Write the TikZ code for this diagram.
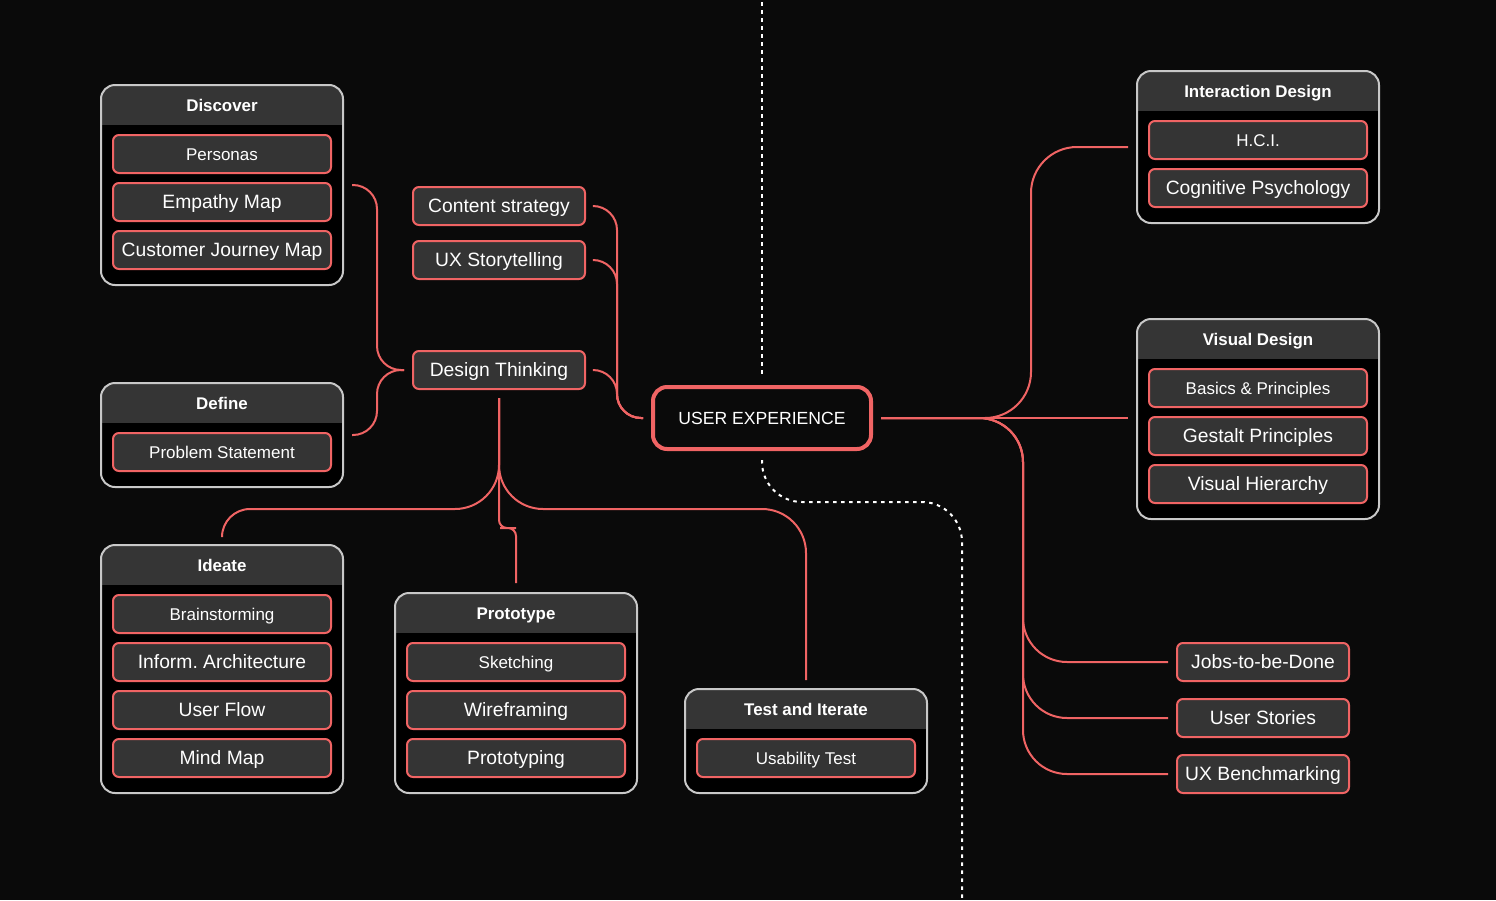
\documentclass[tikz,border=0pt]{standalone}
\usepackage{fontspec}
\setmainfont{Liberation Sans}
\usetikzlibrary{calc}
\definecolor{bg}{HTML}{0A0A0A}
\definecolor{coral}{HTML}{F06464}
\definecolor{itemfill}{HTML}{343434}
\definecolor{hdr}{HTML}{353535}
\definecolor{gborder}{HTML}{C8C8C8}
\frenchspacing
\tikzset{
  item/.style={draw=coral, line width=2pt, fill=itemfill, rounded corners=6pt,
    minimum width=218pt, minimum height=38pt, inner sep=0pt, text=white,
    text height=17.8pt, text depth=4pt,
    font=\fontsize{19.3}{22}\selectfont},
  itemsm/.style={item, text height=15.7pt, text depth=3.5pt, font=\fontsize{17}{20}\selectfont},
  grp/.style={draw=gborder, line width=2pt, fill=black, rounded corners=14pt,
    minimum width=242pt, inner sep=0pt,
    path picture={\fill[hdr, sharp corners] (path picture bounding box.north west)
      rectangle ([yshift=-40pt]path picture bounding box.north east);}},
  grptitle/.style={text=white, font=\bfseries\fontsize{16.9}{20}\selectfont, inner sep=0pt,
    text height=15.8pt, text depth=3.5pt},
  core/.style={draw=coral, line width=4pt, fill=bg, rounded corners=14pt,
    minimum width=218pt, minimum height=62pt, inner sep=0pt, text=white,
    text height=16.1pt, text depth=3.5pt,
    font=\fontsize{17.6}{21}\selectfont},
  link/.style={draw=coral, line width=2pt},
  dots/.style={draw=white, line width=2pt, dash pattern=on 3.5pt off 4.5pt},
}
\begin{document}
\begin{tikzpicture}[x=1pt,y=-1pt]
\useasboundingbox (0,0) rectangle (1496,900);
\fill[bg] (0,0) rectangle (1496,900);

% ---- groups
\node[grp, minimum height=200pt] (discover) at (222,185) {};
\node[grptitle] (discovert) at (222,105) {Discover};
\node[itemsm] (personas) at (222,154) {Personas};
\node[item] (empathy) at (222,202) {Empathy Map};
\node[item] (journey) at (222,250) {Customer Journey Map};

\node[grp, minimum height=104pt] (define) at (222,435) {};
\node[grptitle] (definet) at (222,403) {Define};
\node[itemsm] (problem) at (222,452) {Problem Statement};

\node[grp, minimum height=248pt] (ideate) at (222,669) {};
\node[grptitle] (ideatet) at (222,565) {Ideate};
\node[itemsm] (brain) at (222,614) {Brainstorming};
\node[item] (ia) at (222,662) {Inform. Architecture};
\node[item] (flow) at (222,710) {User Flow};
\node[item] (mind) at (222,758) {Mind Map};

\node[grp, minimum height=200pt] (proto) at (516,693) {};
\node[grptitle] (protot) at (516,613) {Prototype};
\node[itemsm] (sketch) at (516,662) {Sketching};
\node[item] (wire) at (516,710) {Wireframing};
\node[item] (prototyping) at (516,758) {Prototyping};

\node[grp, minimum height=104pt] (test) at (806,741) {};
\node[grptitle] (testt) at (806,709) {Test and Iterate};
\node[itemsm] (usab) at (806,758) {Usability Test};

\node[grp, minimum height=152pt] (idg) at (1258,147) {};
\node[grptitle] (idgt) at (1258,91) {Interaction Design};
\node[itemsm] (hci) at (1258,140) {H.C.I.};
\node[item] (cog) at (1258,188) {Cognitive Psychology};

\node[grp, minimum height=200pt] (vd) at (1258,419) {};
\node[grptitle] (vdt) at (1258,339) {Visual Design};
\node[itemsm] (basics) at (1258,388) {Basics \& Principles};
\node[item] (gestalt) at (1258,436) {Gestalt Principles};
\node[item] (hier) at (1258,484) {Visual Hierarchy};

% ---- standalone items
\node[item, minimum width=172pt] (cs) at (499,206) {Content strategy};
\node[item, minimum width=172pt] (st) at (499,260) {UX Storytelling};
\node[item, minimum width=172pt] (dt) at (499,370) {Design Thinking};
\node[item, minimum width=172pt] (jobs) at (1263,662) {Jobs-to-be-Done};
\node[item, minimum width=172pt] (stories) at (1263,718) {User Stories};
\node[item, minimum width=172pt] (bench) at (1263,774) {UX Benchmarking};

\node[core] (ux) at (762,418) {USER EXPERIENCE};

% ---- dotted guide
\draw[dots] (762,2) -- ($(ux.north)+(0,-9)$);
\coordinate (d0) at ($(ux.south)+(0,9)$);
\draw[dots] (d0) -- (762,462) .. controls (762,484) and (780,502) .. (802,502)
  -- (922,502) .. controls (944,502) and (962,520) .. (962,542) -- (962,900);

% ---- left brace into Design Thinking
\draw[link, rounded corners=24pt] ($(discover.east)+(8,0)$) -| ($(dt.west)+(-35,0)$) -- ($(dt.west)+(-8,0)$);
\draw[link, rounded corners=24pt] ($(define.east)+(8,0)$) -| ($(dt.west)+(-35,0)$) -- ($(dt.west)+(-8,0)$);

% ---- into USER EXPERIENCE
\draw[link, rounded corners=24pt] ($(cs.east)+(8,0)$) -| ($(ux.west)+(-34,0)$) -- ($(ux.west)+(-8,0)$);
\draw[link, rounded corners=24pt] ($(st.east)+(8,0)$) -| ($(ux.west)+(-34,0)$) -- ($(ux.west)+(-8,0)$);
\draw[link, rounded corners=24pt] ($(dt.east)+(8,0)$) -| ($(ux.west)+(-34,0)$) -- ($(ux.west)+(-8,0)$);

% ---- right side
\coordinate (r0) at ($(ux.east)+(8,0)$);
\draw[link] (r0) -- ($(vd.west |- r0)+(-8,0)$);
\draw[link, rounded corners=46pt] (r0) -| ($(idg.west)+(-105,0)$) -- ($(idg.west)+(-8,0)$);
\draw[link, rounded corners=44pt] (r0) -| ($(jobs.west)+(-153,0)$) -- ($(jobs.west)+(-8,0)$);
\draw[link, rounded corners=44pt] (r0) -| ($(stories.west)+(-153,0)$) -- ($(stories.west)+(-8,0)$);
\draw[link, rounded corners=44pt] (r0) -| ($(bench.west)+(-153,0)$) -- ($(bench.west)+(-8,0)$);

% ---- from Design Thinking downward
\coordinate (dtb) at ($(dt.south)+(0,8)$);
\draw[link, rounded corners=44pt] (dtb) |- (300,509);
\draw[link, rounded corners=28pt] (300,509) -| ($(ideate.north)+(0,-8)$);
\draw[link, rounded corners=44pt] (dtb) |- (700,509) -| ($(test.north)+(0,-8)$);
\draw[link, rounded corners=8pt] (dtb) |- (508,528) -| ($(proto.north)+(0,-9)$);
\end{tikzpicture}
\end{document}
